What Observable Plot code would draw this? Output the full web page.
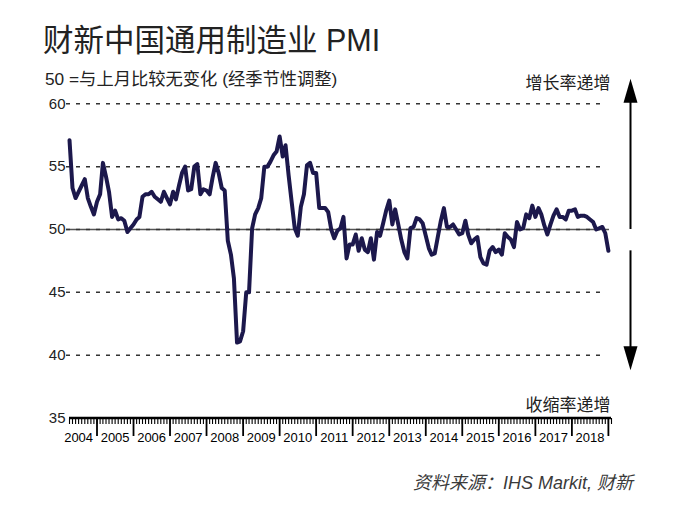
<!DOCTYPE html>
<html><head><meta charset="utf-8">
<script src="https://cdn.jsdelivr.net/npm/d3@7"></script>
<script src="https://cdn.jsdelivr.net/npm/@observablehq/plot@0.6"></script>
<style>
body{margin:0;background:#fff;}
#wrap{position:relative;width:693px;height:523px;overflow:hidden;background:#fff;}
#wrap svg{position:absolute;left:0;top:0;}
.t{position:absolute;white-space:nowrap;color:#222;font-family:"Liberation Sans","Noto Sans CJK SC",sans-serif;}
#title{left:43px;top:25px;font-size:30.5px;line-height:31px;}
#subtitle{left:45px;top:71px;font-size:17.3px;line-height:17px;}
#source{right:60px;top:474px;font-size:18px;line-height:18px;font-style:italic;color:#3a3a3a;}
</style></head>
<body>
<div id="wrap">
  <div id="chart"></div>
  <div class="t" id="title">财新中国通用制造业 PMI</div>
  <div class="t" id="subtitle">50 =与上月比较无变化 (经季节性调整)</div>
  <div class="t" id="source">资料来源：IHS Markit, 财新</div>
</div>
<script>
// Monthly PMI readings, series starts April 2004
const pmi2004 = [57.1, 53.3, 52.5, 53.0, 53.5, 54.0, 52.5, 51.8, 51.2];
const pmi2005 = [52.2, 52.8, 55.3, 54.2, 53.0, 51.0, 51.5, 50.8, 50.9, 50.7, 49.8, 50.1];
const pmi2006 = [50.4, 50.8, 51.0, 52.6, 52.8, 52.8, 53.0, 52.6, 52.4, 52.2, 53.0, 52.5];
const pmi2007 = [52.0, 53.0, 52.4, 53.5, 54.5, 55.0, 53.1, 53.2, 55.0, 55.2, 52.8, 53.2];
const pmi2008 = [53.1, 52.8, 54.1, 55.3, 54.5, 53.3, 53.1, 49.1, 48.0, 46.1, 41.0, 41.1];
const pmi2009 = [41.9, 45.0, 45.0, 50.1, 51.2, 51.7, 52.5, 55.0, 55.0, 55.4, 55.9, 56.2];
const pmi2010 = [57.4, 55.8, 56.7, 54.3, 52.2, 50.1, 49.5, 51.8, 52.8, 55.1, 55.3, 54.5];
const pmi2011 = [54.5, 51.7, 51.7, 51.7, 51.4, 50.0, 49.3, 49.9, 50.1, 51.0, 47.7, 48.8];
const pmi2012 = [48.8, 49.6, 48.3, 49.3, 48.4, 48.2, 49.3, 47.6, 49.8, 49.5, 50.5, 51.5];
const pmi2013 = [52.3, 50.4, 51.6, 50.4, 49.2, 48.2, 47.7, 50.1, 50.2, 50.9, 50.8, 50.5];
const pmi2014 = [49.5, 48.5, 48.0, 48.1, 49.4, 50.7, 51.7, 50.2, 50.2, 50.4, 50.0, 49.6];
const pmi2015 = [49.7, 50.7, 49.6, 48.9, 49.2, 49.4, 47.8, 47.3, 47.2, 48.3, 48.6, 48.2];
const pmi2016 = [48.4, 48.0, 49.7, 49.4, 49.2, 48.6, 50.6, 50.0, 50.1, 51.2, 50.9, 51.9];
const pmi2017 = [51.0, 51.7, 51.2, 50.3, 49.6, 50.4, 51.1, 51.6, 51.0, 51.0, 50.8, 51.5];
const pmi2018 = [51.5, 51.6, 51.0, 51.1, 51.1, 51.0, 50.8, 50.6, 50.0, 50.1, 50.2, 49.7];
const pmi2019 = [48.3];

const yearLabels = ["2004","2005","2006","2007","2008","2009","2010","2011","2012","2013","2014","2015","2016","2017","2018"];
const yTicks = [35, 40, 45, 50, 55, 60];
const gridValues = [40, 45, 50, 55, 60];
const noChange = [50];
const upLabel = ["增长率递增"];
const downLabel = ["收缩率递增"];
const arrowUp = [{from: 50.0, to: 62.0}];
const arrowDown = [{from: 48.3, to: 38.8}];

const startMonth = new Date(Date.UTC(2004, 3, 1));
const endMonth = new Date(Date.UTC(2019, 1, 1));
const values = [].concat(pmi2004, pmi2005, pmi2006, pmi2007, pmi2008, pmi2009, pmi2010,
  pmi2011, pmi2012, pmi2013, pmi2014, pmi2015, pmi2016, pmi2017, pmi2018, pmi2019);
const data = values.map((v, i) => ({date: d3.utcMonth.offset(startMonth, i), pmi: v}));

const monthTicks = d3.utcMonth.range(startMonth, d3.utcMonth.offset(endMonth, 1));
const yearTicks = d3.utcYear.range(new Date(Date.UTC(2005, 0, 1)), new Date(Date.UTC(2019, 0, 2)));

// custom symbols: tick marks hanging below the axis, and filled arrow heads
const minorTick = {draw(ctx) { ctx.moveTo(0, 0); ctx.lineTo(0, 6); }};
const majorTick = {draw(ctx) { ctx.moveTo(0, 0); ctx.lineTo(0, 18); }};
const upHead = {draw(ctx) { ctx.moveTo(0, 0); ctx.lineTo(7, 24); ctx.lineTo(-7, 24); ctx.closePath(); }};
const downHead = {draw(ctx) { ctx.moveTo(0, 0); ctx.lineTo(7, -24); ctx.lineTo(-7, -24); ctx.closePath(); }};

const chart = Plot.plot({
  width: 693, height: 523,
  marginTop: 103.3, marginBottom: 105.5, marginLeft: 69, marginRight: 82,
  style: {fontFamily: '"Liberation Sans","Noto Sans CJK SC",sans-serif', fontSize: "15px", background: "transparent", overflow: "visible", color: "#222"},
  x: {type: "utc", domain: [startMonth, endMonth], axis: null},
  y: {domain: [35, 60], ticks: yTicks, tickSize: 0, tickPadding: 4, label: null, tickFormat: d => String(d)},
  marks: [
    Plot.ruleY(noChange, {stroke: "#555", strokeWidth: 1.5, insetLeft: -3, insetRight: 2}),
    Plot.ruleY(gridValues, {stroke: "#333", strokeWidth: 1.5, strokeDasharray: "4,6", insetLeft: -3, insetRight: 5}),
    Plot.dot(monthTicks, {x: d => d, frameAnchor: "bottom", symbol: minorTick, stroke: "#000", strokeWidth: 1.1, fill: "none", r: 3}),
    Plot.dot(yearTicks, {x: d => d, frameAnchor: "bottom", symbol: majorTick, stroke: "#000", strokeWidth: 1.8, fill: "none", r: 3}),
    Plot.ruleY([35], {stroke: "#000", strokeWidth: 2.5}),
    Plot.text(yearLabels, {x: d => new Date(Date.UTC(+d, 6, 1)), text: d => d, frameAnchor: "bottom", dy: 24, fontSize: 13, fill: "#000"}),
    Plot.line(data, {x: "date", y: "pmi", stroke: "#1c184c", strokeWidth: 4, strokeLinejoin: "round", strokeLinecap: "round"}),
    Plot.ruleX(arrowUp, {x: () => endMonth, y1: "from", y2: d => d.to - 1, dx: 19, stroke: "#000", strokeWidth: 2}),
    Plot.dot(arrowUp, {x: () => endMonth, y: "to", dx: 19, symbol: upHead, fill: "#000", stroke: "none", r: 5}),
    Plot.ruleX(arrowDown, {x: () => endMonth, y1: "from", y2: d => d.to + 1, dx: 19, stroke: "#000", strokeWidth: 2}),
    Plot.dot(arrowDown, {x: () => endMonth, y: "to", dx: 19, symbol: downHead, fill: "#000", stroke: "none", r: 5}),
    Plot.text(upLabel, {text: d => d, frameAnchor: "top-right", textAnchor: "end", lineAnchor: "middle", dy: -20, dx: -1, fontSize: 17, fill: "#222", fontFamily: '"Noto Sans CJK SC",sans-serif'}),
    Plot.text(downLabel, {text: d => d, frameAnchor: "bottom-right", textAnchor: "end", lineAnchor: "middle", dy: -12.5, dx: -1, fontSize: 17, fill: "#222", fontFamily: '"Noto Sans CJK SC",sans-serif'})
  ]
});
document.getElementById("chart").appendChild(chart);
</script>
</body></html>
